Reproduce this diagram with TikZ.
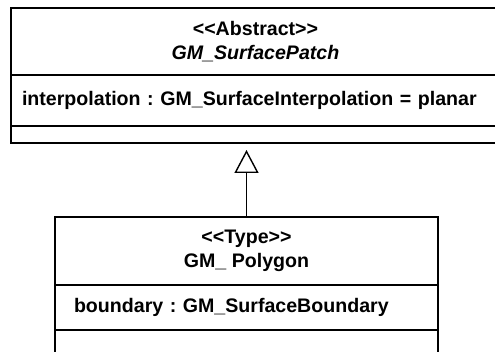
\documentclass[tikz,border=0pt]{standalone}
\usepackage{fontspec}
\setmainfont{Liberation Sans}[Ligatures=TeXOff]
\frenchspacing
\usetikzlibrary{arrows.meta, positioning}

\begin{document}
\begin{tikzpicture}[
  x=1pt, y=1pt,
  umlhead/.style={rectangle, draw=black, line width=1.5pt, outer sep=0pt, align=center, font=\fontsize{19.6}{24}\selectfont\bfseries},
  umlattr/.style={rectangle, draw=black, line width=1.5pt, outer sep=0pt, align=left, font=\fontsize{19.6}{22}\selectfont\bfseries},
  umlops/.style={rectangle, draw=black, line width=1.5pt, outer sep=0pt},
  inherit/.style={-{Triangle[open, length=23pt, width=24pt]}, line width=1.4pt, shorten >=7pt}
]
  \useasboundingbox (0,0) rectangle (495,-352);
  \clip (0,0) rectangle (495,-352);

  % Abstract class
  \node[umlhead, minimum width=489pt, minimum height=67pt, anchor=north west] (patchhead) at (11,-8)
    {<<Abstract>>\\\textit{GM\_SurfacePatch}};
  \node[umlattr, inner xsep=11pt, text width=467pt, minimum height=51pt, below=0pt of patchhead] (patchattr)
    {interpolation : GM\_SurfaceInterpolation = planar};
  \node[umlops, minimum width=489pt, minimum height=17pt, below=0pt of patchattr] (patchops) {};

  % Type class
  \node[umlhead, minimum width=383pt, minimum height=68pt, anchor=north west] (polyhead) at (55,-217)
    {<<Type>>\\GM\_ Polygon};
  \node[umlattr, inner xsep=19pt, text width=345pt, minimum height=45pt, below=0pt of polyhead] (polyattr)
    {boundary : GM\_SurfaceBoundary};
  \node[umlops, minimum width=383pt, minimum height=26pt, below=0pt of polyattr] (polyops) {};

  % Generalization
  \draw[inherit] (polyhead.north) -- (polyhead.north |- patchops.south);
\end{tikzpicture}
\end{document}
